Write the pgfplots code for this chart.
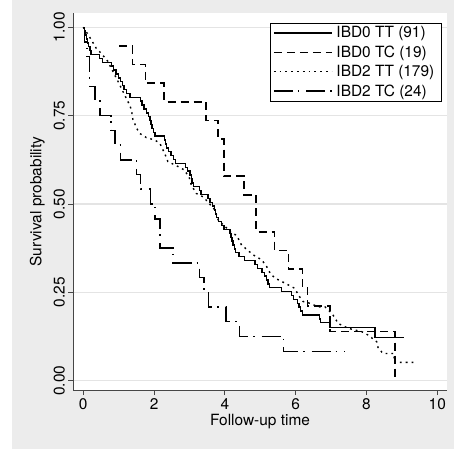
\documentclass[border=0pt]{standalone}
\usepackage{fontspec}
\setmainfont{TeX Gyre Heros}
\usepackage{pgfplots}
\pgfplotsset{compat=1.18}
\definecolor{bggray}{RGB}{236,236,236}
\definecolor{gridgray}{RGB}{228,228,228}
\definecolor{axgray}{RGB}{70,70,70}
\newcommand{\fs}{\fontsize{15.5}{18.5}\selectfont}
\begin{document}
\begin{tikzpicture}
\fill[white] (-73.3bp,-59bp) rectangle (380.7bp,390bp);
\fill[bggray] (-61.3bp,-59bp) rectangle (380.7bp,390bp);
\path[use as bounding box] (-73.3bp,-59bp) rectangle (380.7bp,390bp);
\begin{axis}[
  at={(0,0)}, anchor=south west,
  scale only axis, width=373.4bp, height=377bp,
  xmin=-0.282, xmax=10.266, ymin=-0.0263, ymax=1.0405,
  axis x line*=bottom, axis y line*=left,
  axis line style={axgray, line width=1bp},
  axis background/.style={fill=white},
  tick align=outside, major tick length=5bp,
  tick style={axgray, line width=1bp},
  xtick={0,2,4,6,8,10}, xticklabels={0,2,4,6,8,10},
  ytick={0,0.25,0.5,0.75,1}, yticklabels={0.00,0.25,0.50,0.75,1.00},
  yticklabel style={rotate=90, anchor=south},
  tick label style={font=\fs},
  ymajorgrids, grid style={gridgray, line width=1.4bp},
  xlabel={Follow-up time}, ylabel={Survival probability},
  label style={font=\fs},
  xlabel style={at={(axis description cs:0.5,-0.056)}, anchor=north},
  ylabel style={at={(axis description cs:-0.067,0.5)}, anchor=south},
  legend style={at={(1,1)}, anchor=north east, xshift=-5bp, yshift=-9.7bp,
    draw=black, line width=0.8bp, fill=white, font=\fs, row sep=3.5bp,
    nodes={inner ysep=1.5bp, inner xsep=4bp}},
  legend cell align=left,
  legend image code/.code={\draw[#1, line width=1.4bp] (0bp,0bp) -- (58bp,0bp);},
  every axis plot/.append style={line width=1.4bp, black},
]
% IBD0 TT (91)
\addplot[const plot, solid] coordinates {
(0,1) (0.03,0.989) (0.06,0.978) (0.09,0.967) (0.12,0.956) (0.15,0.945)
(0.19,0.934) (0.22,0.923) (0.45,0.912) (0.55,0.901) (0.80,0.890) (0.86,0.879)
(0.92,0.868) (1.00,0.857) (1.05,0.846) (1.10,0.835) (1.15,0.824) (1.22,0.813)
(1.32,0.802) (1.62,0.791) (1.66,0.780) (1.72,0.769) (1.78,0.758) (1.84,0.747)
(1.88,0.736) (1.91,0.725) (1.94,0.714) (1.98,0.703) (2.03,0.692) (2.30,0.681)
(2.32,0.670) (2.35,0.659) (2.40,0.648) (2.48,0.637) (2.55,0.626) (2.60,0.615)
(2.88,0.604) (2.95,0.593) (3.02,0.582) (3.05,0.571) (3.07,0.560) (3.12,0.549)
(3.28,0.538) (3.32,0.527) (3.52,0.516) (3.58,0.505) (3.65,0.494) (3.70,0.483)
(3.73,0.472) (3.77,0.461) (3.82,0.450) (3.90,0.439) (3.98,0.428) (4.15,0.417)
(4.17,0.406) (4.20,0.395) (4.23,0.384) (4.27,0.373) (4.30,0.362) (4.40,0.351)
(4.55,0.340) (4.85,0.329) (4.92,0.318) (5.05,0.307) (5.12,0.296) (5.18,0.285)
(5.22,0.274) (5.26,0.263) (5.60,0.252) (5.88,0.241) (5.94,0.230) (6.05,0.219)
(6.09,0.208) (6.13,0.197) (6.19,0.186) (6.68,0.175) (6.70,0.165) (6.97,0.151)
(8.24,0.122) (9.07,0.122)
};
\addlegendentry{IBD0 TT (91)}
% IBD0 TC (19)
\addplot[const plot, dash pattern=on 8bp off 5bp] coordinates {
(1.02,0.947) (1.39,0.895) (1.76,0.842) (2.28,0.789) (3.47,0.737) (3.81,0.684)
(3.97,0.579) (4.54,0.526) (4.88,0.421) (5.41,0.368) (5.79,0.316) (6.19,0.263)
(6.33,0.211) (6.97,0.140) (8.80,0)
};
\addlegendentry{IBD0 TC (19)}
% IBD2 TT (179)
\addplot[dash pattern=on 1.8bp off 4bp] coordinates {
(0,1) (0.08,0.988) (0.23,0.964) (0.37,0.940) (0.51,0.926) (0.70,0.903)
(0.79,0.884) (0.89,0.865) (1.03,0.837) (1.17,0.808) (1.31,0.780) (1.36,0.766)
(1.40,0.740) (1.51,0.714) (1.59,0.700) (1.78,0.688) (2.02,0.681) (2.16,0.672)
(2.30,0.643) (2.39,0.620) (2.68,0.606) (2.86,0.596) (3.00,0.573) (3.05,0.554)
(3.19,0.530) (3.39,0.520) (3.72,0.483) (3.81,0.455) (4.00,0.437) (4.19,0.417)
(4.33,0.412) (4.47,0.384) (4.80,0.356) (5.04,0.342) (5.18,0.323) (5.28,0.304)
(5.42,0.290) (5.70,0.276) (5.98,0.261) (6.07,0.243) (6.21,0.224) (6.40,0.219)
(6.64,0.209) (6.83,0.209) (6.92,0.200) (7.02,0.191) (7.11,0.177) (7.20,0.162)
(7.49,0.148) (7.86,0.139) (8.05,0.129) (8.29,0.110) (8.33,0.092) (8.47,0.077)
(8.78,0.077) (8.78,0.052) (9.42,0.052)
};
\addlegendentry{IBD2 TT (179)}
% IBD2 TC (24)
\addplot[const plot, dash pattern=on 19bp off 5bp on 1.5bp off 7bp] coordinates {
(0,1) (0.04,0.958) (0.10,0.917) (0.18,0.833) (0.33,0.792) (0.47,0.750)
(0.78,0.708) (0.90,0.667) (1.05,0.625) (1.51,0.583) (1.62,0.542) (1.90,0.500)
(2.03,0.458) (2.17,0.375) (2.54,0.333) (3.28,0.292) (3.41,0.250) (3.53,0.208)
(4.03,0.167) (4.42,0.125) (5.65,0.083) (7.39,0.083)
};
\addlegendentry{IBD2 TC (24)}
\end{axis}
\end{tikzpicture}
\end{document}
